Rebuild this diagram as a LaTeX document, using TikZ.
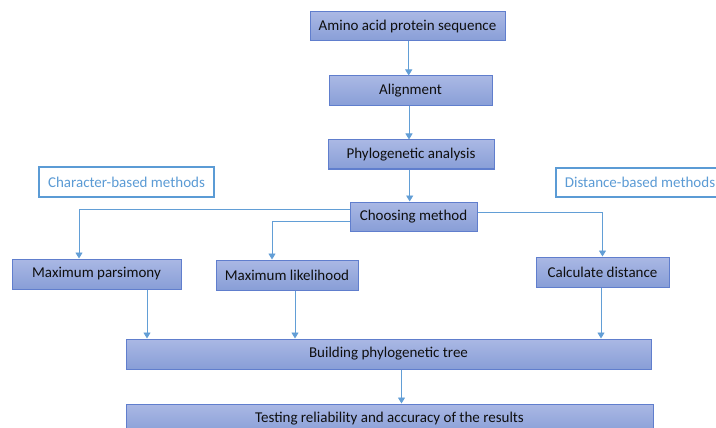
\documentclass[tikz,border=0pt]{standalone}
\usepackage{fontspec}
\setmainfont{Carlito}
\usetikzlibrary{arrows.meta}
\definecolor{boxtop}{RGB}{170,184,228}
\definecolor{boxbot}{RGB}{136,158,215}
\definecolor{boxline}{RGB}{96,126,205}
\definecolor{arr}{RGB}{98,158,214}
\definecolor{lbl}{RGB}{91,155,213}
\definecolor{txt}{RGB}{15,15,15}
\tikzset{
  flow/.style={draw=boxline, line width=1pt, top color=boxtop, bottom color=boxbot,
    minimum height=29pt, inner sep=0pt, text=txt, font=\fontsize{15}{18}\selectfont},
  tag/.style={draw=lbl, line width=1.3pt, fill=white, minimum height=29pt, inner sep=0pt,
    text=lbl, font=\fontsize{15}{18}\selectfont},
  conn/.style={draw=arr, line width=0.9pt, -{Triangle[width=7pt,length=6pt]}},
}
\begin{document}
\begin{tikzpicture}[x=1pt,y=-1pt]
\useasboundingbox (0,0) rectangle (716,428);
\clip (0,0) rectangle (716,428);
\fill[white] (0,0) rectangle (716,428);
\node[flow, minimum width=195pt] (seq) at (407.5,26.5) {Amino acid protein sequence};
\node[flow, minimum width=163pt, minimum height=30pt] (aln) at (410.5,91) {Alignment};
\node[flow, minimum width=166pt] (pa) at (411,154.5) {Phylogenetic analysis};
\node[flow, minimum width=127pt] (cm) at (413.5,216.5) {Choosing method};
\node[tag, minimum width=175pt, minimum height=30pt] (cb) at (126.5,182) {Character-based methods};
\node[tag, minimum width=168pt] (db) at (640,182.5) {Distance-based methods};
\node[flow, minimum width=169pt, minimum height=30pt] (mp) at (96.5,274) {Maximum parsimony};
\node[flow, minimum width=142pt, minimum height=30pt] (ml) at (287,275) {Maximum likelihood};
\node[flow, minimum width=133pt, minimum height=30pt] (cd) at (602.5,272) {Calculate distance};
\node[flow, minimum width=525pt, minimum height=30pt] (bpt) at (388.5,354) {Building phylogenetic tree};
\node[flow, minimum width=527pt, minimum height=30pt] (test) at (389.5,419) {Testing reliability and accuracy of the results};

\coordinate (s1) at ([xshift=1.2pt]seq.south);
\draw[conn] (s1) -- (s1 |- aln.north);
\coordinate (s2) at ([xshift=-1.5pt]aln.south);
\draw[conn] (s2) -- (s2 |- pa.north);
\coordinate (s3) at ([xshift=-1.3pt]pa.south);
\draw[conn] (s3) -- (s3 |- cm.north);

\coordinate (c1) at ([yshift=7pt]cm.west);
\coordinate (mpin) at ([xshift=-17.5pt]mp.north);
\draw[conn] (c1) -| (mpin);
\coordinate (c2) at ([yshift=-4.5pt]cm.west);
\coordinate (mlin) at ([xshift=-15pt]ml.north);
\draw[conn] (c2) -| (mlin);
\coordinate (c3) at ([yshift=4pt]cm.east);
\draw[conn] (c3) -| (cd.north);

\coordinate (m1) at ([xshift=50.5pt]mp.south);
\draw[conn] (m1) -- (m1 |- bpt.north);
\coordinate (m2) at ([xshift=8pt]ml.south);
\draw[conn] (m2) -- (m2 |- bpt.north);
\coordinate (m3) at ([xshift=-1.5pt]cd.south);
\draw[conn] (m3) -- (m3 |- bpt.north);
\coordinate (b1) at ([xshift=13pt]bpt.south);
\draw[conn] (b1) -- (b1 |- test.north);
\end{tikzpicture}
\end{document}
